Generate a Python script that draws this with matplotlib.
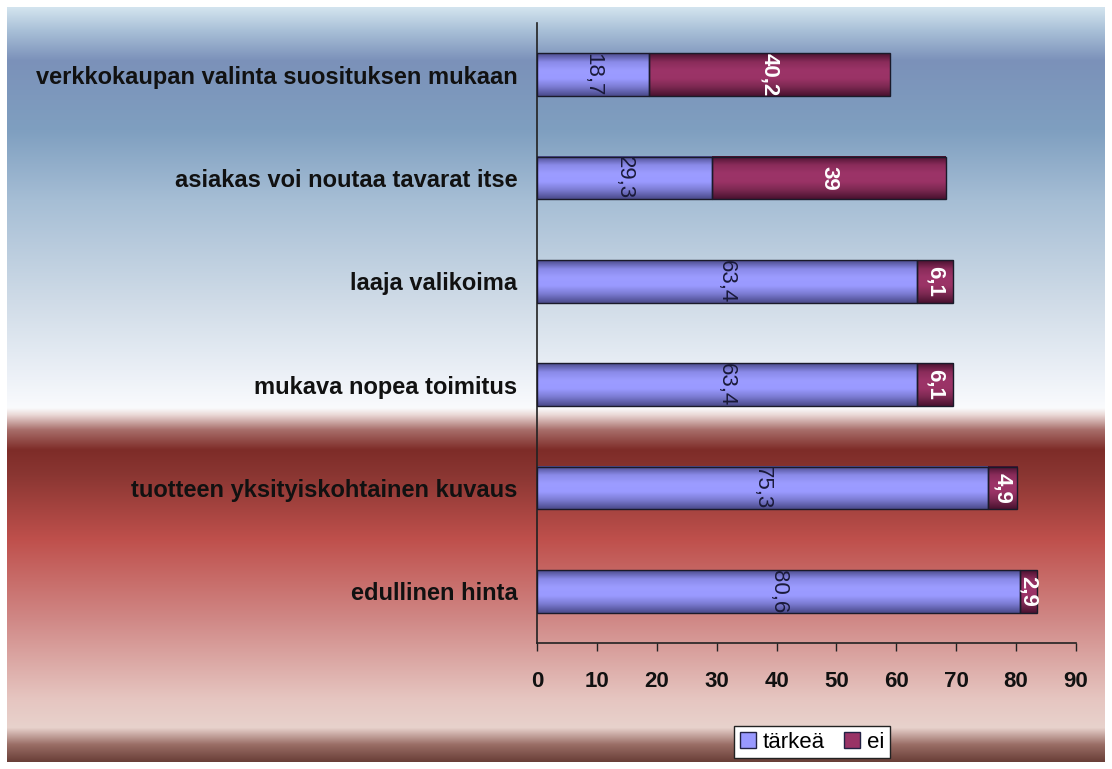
import numpy as np
import matplotlib
matplotlib.use("Agg")
import matplotlib.pyplot as plt
from matplotlib.colors import LinearSegmentedColormap, to_rgb
from matplotlib.patches import Rectangle

categories = ["edullinen hinta", "tuotteen yksityiskohtainen kuvaus", "mukava nopea toimitus",
              "laaja valikoima", "asiakas voi noutaa tavarat itse",
              "verkkokaupan valinta suosituksen mukaan"]
tarkea = [80.6, 75.3, 63.4, 63.4, 29.3, 18.7]
ei = [2.9, 4.9, 6.1, 6.1, 39, 40.2]
tarkea_labels = ["80,6", "75,3", "63,4", "63,4", "29,3", "18,7"]
ei_labels = ["2,9", "4,9", "6,1", "6,1", "39", "40,2"]
series_names = ["tärkeä", "ei"]
xticks = [0, 10, 20, 30, 40, 50, 60, 70, 80, 90]

plt.rcParams['font.family'] = ['Liberation Sans', 'DejaVu Sans']

W, H = 1112, 769
fig = plt.figure(figsize=(W / 100, H / 100), dpi=100)
fig.patch.set_facecolor("white")

# background gradient
bg = fig.add_axes([7 / W, 7 / H, (1105 - 7) / W, (762 - 7) / H])
bg.set_axis_off()
stops = [
    (7, "#d3e4ef"), (30, "#a9c0d8"), (60, "#7b91b9"), (130, "#7f9fc0"),
    (200, "#a6bed5"), (300, "#cfdbe7"), (380, "#eef2f8"), (408, "#fafbfd"),
    (415, "#ead8d6"), (430, "#a86e6a"), (450, "#7e2c28"), (475, "#8a3632"),
    (540, "#bf504c"), (620, "#d08886"), (700, "#e6c6c1"), (728, "#e8d2cc"),
    (745, "#9a6e66"), (762, "#6a3f38"),
]
ys = np.arange(7, 763)
rgb = np.zeros((len(ys), 3))
sy = np.array([s[0] for s in stops], float)
sc = np.array([to_rgb(s[1]) for s in stops])
for c in range(3):
    rgb[:, c] = np.interp(ys, sy, sc[:, c])
bg.imshow(rgb[:, None, :], aspect="auto", extent=(0, 1, 0, 1), origin="upper")
bg.set_xlim(0, 1)
bg.set_ylim(0, 1)

ax = fig.add_axes([537 / W, 1 - 643 / H, (1076 - 537) / W, (643 - 23) / H])
ax.patch.set_alpha(0)

h = 0.41
blue_cmap = LinearSegmentedColormap.from_list("b", ["#4b4b8c", "#8a8ae8", "#9c9cff", "#9a9aff", "#7a7ad0", "#4b4b8c"])
red_cmap = LinearSegmentedColormap.from_list("r", ["#4a1230", "#8a2c5a", "#9c3468", "#9a3366", "#7a2850", "#4a1230"])
grad = np.linspace(0, 1, 64)[:, None]

def seg(left, width, y, cmap):
    ax.imshow(grad, cmap=cmap, aspect="auto",
              extent=(left, left + width, y - h / 2, y + h / 2), zorder=2, origin="upper")
    ax.add_patch(Rectangle((left, y - h / 2), width, h, fill=False, edgecolor="#1a1a2a", lw=1.0, zorder=3))

ypos = np.arange(len(categories))
for i, y in enumerate(ypos):
    seg(0, tarkea[i], y, blue_cmap)
    seg(tarkea[i], ei[i], y, red_cmap)
    ax.text(tarkea[i] / 2, y, tarkea_labels[i], rotation=-90, ha="center", va="center",
            fontsize=16, color="#1a1a3a", zorder=4)
    ax.text(tarkea[i] + ei[i] / 2, y, ei_labels[i], rotation=-90, ha="center", va="center",
            fontsize=16, color="white", fontweight="bold", zorder=4)

ax.set_xlim(0, 90)
ax.set_ylim(-0.5, len(categories) - 0.5)
ax.set_yticks(ypos)
ax.set_yticklabels(categories, fontsize=17, fontweight="bold", color="#111111")
ax.tick_params(axis="y", which="major", length=0, pad=14)
ax.set_xticks(xticks)
ax.set_xticklabels([str(v) for v in xticks], fontsize=16, fontweight="bold", color="#111111")
ax.tick_params(axis="x", length=6, width=1, color="#222222", direction="out", pad=14)
for s in ["top", "right"]:
    ax.spines[s].set_visible(False)
for s in ["left", "bottom"]:
    ax.spines[s].set_color("#222222")
    ax.spines[s].set_linewidth(1.2)

handles = [Rectangle((0, 0), 1, 1, facecolor="#9999ff", edgecolor="#222244", lw=1),
           Rectangle((0, 0), 1, 1, facecolor="#993366", edgecolor="#222244", lw=1)]
leg = fig.legend(handles, series_names, loc="center", bbox_to_anchor=(812 / W, 1 - 742 / H),
                 ncol=2, frameon=True, fontsize=16, handlelength=0.7, handleheight=0.7,
                 handletextpad=0.3, columnspacing=0.9, borderpad=0.25, fancybox=False)
leg.get_frame().set_edgecolor("#222222")
leg.get_frame().set_facecolor("white")
leg.get_frame().set_alpha(1)

fig.savefig("out.png", dpi=100)
